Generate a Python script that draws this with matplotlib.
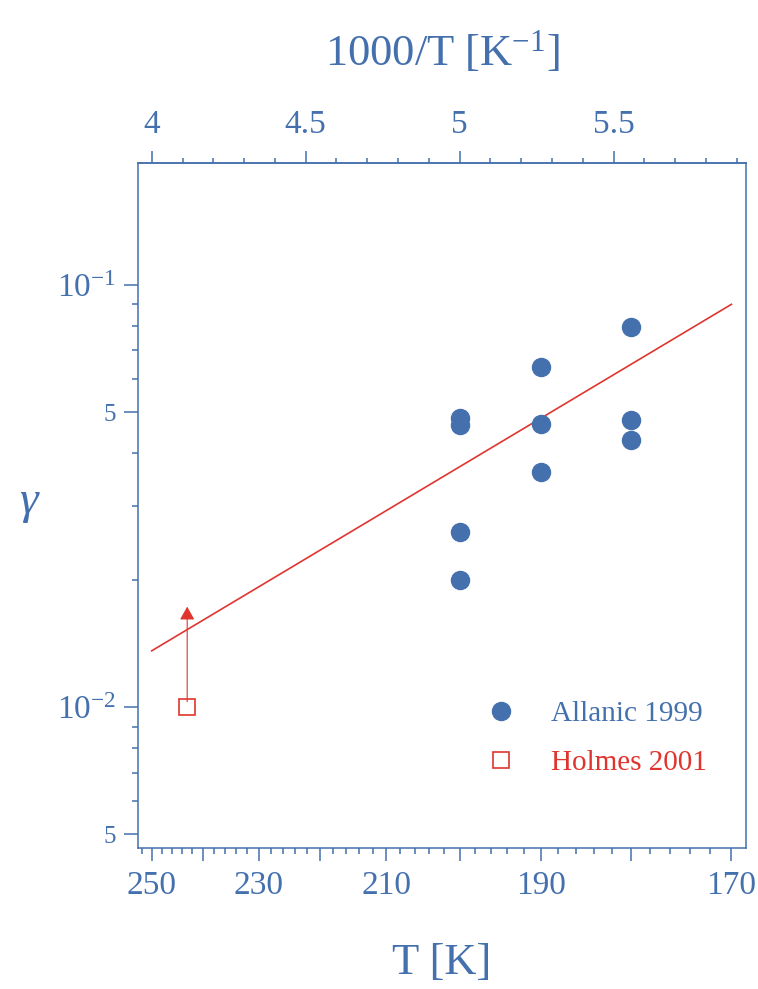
import numpy as np
import matplotlib
matplotlib.use("Agg")
import matplotlib.pyplot as plt
from matplotlib.ticker import FixedLocator

plt.rcParams['font.family'] = ['Liberation Serif', 'DejaVu Serif']
plt.rcParams['mathtext.fontset'] = 'custom'
plt.rcParams['mathtext.rm'] = 'Liberation Serif'

blue = '#4470ae'
red = '#e0352f'

# data
allanic_T = [200, 200, 200, 200, 190, 190, 190, 180, 180, 180]
allanic_gamma = [0.0484, 0.0466, 0.0260, 0.0200, 0.0639, 0.0469, 0.0360, 0.0795, 0.0479, 0.0429]
holmes_T = [243]
holmes_gamma = [0.0100]
holmes_limit = [0.0173]
fit_T = [250, 170]
fit_gamma = [0.0136, 0.0900]

T_labels = [250, 230, 210, 190, 170]
T_major = list(range(170, 251, 10))
T_minor = list(range(168, 254, 2))
inv_major = [4, 4.5, 5, 5.5]

fig = plt.figure(figsize=(7.58, 9.89), dpi=100)
ax = fig.add_axes([138/758, 1-848/989, 608/758, 685/989])

inv = lambda T: 1000.0/np.asarray(T, dtype=float)

ax.plot(inv(fit_T), fit_gamma, color=red, lw=1.2, zorder=2)
ax.plot(inv(allanic_T), allanic_gamma, 'o', color=blue, ms=13, mec=blue,
        label='Allanic 1999', zorder=3)
ax.plot(inv(holmes_T), holmes_gamma, 's', mfc='none', mec=red, mew=1.2, ms=11.5,
        label='Holmes 2001', zorder=3)
for T, g0, g1 in zip(holmes_T, holmes_gamma, holmes_limit):
    x = 1000.0/T
    ax.annotate('', xy=(x, g1), xytext=(x, g0*1.03),
                arrowprops=dict(arrowstyle='-|>,head_length=0.8,head_width=0.45',
                                color=red, lw=0.8, shrinkA=0, shrinkB=0,
                                mutation_scale=10))

ax.set_yscale('log')
ax.set_xlim(3.9555, 5.9296)
ax.set_ylim(0.00464, 0.1945)

# y ticks
yt = [0.1, 0.05, 0.01, 0.005]
ylab = [r'$\mathregular{10^{-1}}$', '5', r'$\mathregular{10^{-2}}$', '5']
ax.set_yticks(yt, ylab)
ymin = [m*10.0**k for k in (-3, -2) for m in (2, 3, 4, 6, 7, 8, 9)]
ax.yaxis.set_minor_locator(FixedLocator(ymin))
ax.yaxis.set_minor_formatter(plt.NullFormatter())
for lbl in ax.get_yticklabels():
    if lbl.get_text() == '5':
        lbl.set_fontsize(18)
    else:
        lbl.set_fontsize(24)
ax.tick_params(axis='y', which='major', length=10, width=1.1, color=blue,
               labelcolor=blue, pad=6, right=False)
ax.tick_params(axis='y', which='minor', length=4.3, width=1.1, color=blue, right=False)

# bottom T ticks
ax.set_xticks(inv(T_major), [str(t) if t in T_labels else '' for t in T_major])
ax.xaxis.set_minor_locator(FixedLocator(inv(T_minor)))
ax.tick_params(axis='x', which='major', length=9.5, width=1.1, color=blue,
               labelcolor=blue, labelsize=24, pad=7, top=False)
ax.tick_params(axis='x', which='minor', length=4.3, width=1.1, color=blue, top=False)
ax.set_xlabel('T [K]', fontsize=32, color=blue, labelpad=30)

# top 1000/T axis
sec = ax.secondary_xaxis('top', functions=(lambda x: x, lambda x: x))
sec.set_xticks(inv_major, ['4', '4.5', '5', '5.5'])
sec.xaxis.set_minor_locator(FixedLocator(np.arange(4.0, 5.95, 0.1)))
sec.tick_params(axis='x', which='major', length=8.6, width=1.1, color=blue,
                labelcolor=blue, labelsize=24, pad=8)
sec.tick_params(axis='x', which='minor', length=3.6, width=1.1, color=blue)
sec.set_xlabel(r'1000/T [K$\mathregular{^{-1}}$]', fontsize=32, color=blue, labelpad=32)
sec.spines['top'].set_color(blue)
sec.spines['top'].set_linewidth(1.1)

for s in ax.spines.values():
    s.set_color(blue)
    s.set_linewidth(1.1)

ax.set_ylabel('γ', fontsize=34, color=blue, rotation=0, fontstyle='italic')
ax.yaxis.set_label_coords(-0.18, 0.475)

leg = ax.legend(loc='lower right', bbox_to_anchor=(0.935, 0.105), frameon=False,
                fontsize=21, handletextpad=0.95, labelspacing=0.78, handlelength=1.5,
                borderpad=0, borderaxespad=0)
leg.get_texts()[0].set_color(blue)
leg.get_texts()[1].set_color(red)

fig.savefig('out.png', dpi=100)
